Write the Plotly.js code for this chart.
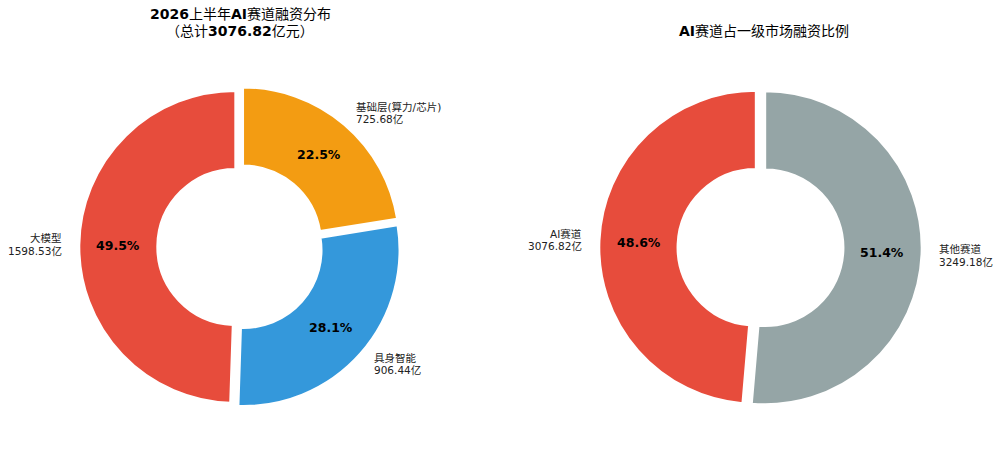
<!DOCTYPE html>
<html><head><meta charset="utf-8">
<script src="https://cdn.plot.ly/plotly-3.0.1.min.js"></script>
<style>html,body{margin:0;padding:0;background:#fff}#chart{width:1000px;height:452px}</style>
</head><body><div id="chart"></div>
<script>
// ---- data ----
const segCategories = ['大模型', '具身智能', '基础层(算力/芯片)'];
const segValues = [1598.53, 906.44, 725.68];
const shareCategories = ['AI赛道', '其他赛道'];
const shareValues = [3076.82, 3249.18];
const unitSuffix = '亿';
const leftTitleLine1 = '<b>2026</b>上半年<b>AI</b>赛道融资分布';
const leftTitleLine2 = '（总计<b>3076.82</b>亿元）';
const rightTitle = '<b>AI</b>赛道占一级市场融资比例';

// ---- styles / layout ----
const segColors = ['#e74c3c', '#3498db', '#f39c12'];
const shareColors = ['#e74c3c', '#95a5a6'];
const W = 1000, H = 452;
const FONT = 'DejaVu Sans, Noto Sans CJK SC, sans-serif';
const PULL = 0.03, HOLE = 0.5;
const geo = [{cx: 240, cy: 247, r: 156}, {cx: 760.5, cy: 247.5, r: 156.5}];

function domainFor(g) {
  const half = g.r * (1 + PULL);
  return {x: [(g.cx - half) / W, (g.cx + half) / W], y: [1 - (g.cy + half) / H, 1 - (g.cy - half) / H]};
}
function px(x) { return x / W; }
function py(y) { return 1 - y / H; }

const annotations = [];
function addText(x, y, text, size, color, xanchor) {
  annotations.push({xref: 'paper', yref: 'paper', x: px(x), y: py(y), text: text, showarrow: false,
    xanchor: xanchor || 'center', yanchor: 'middle', font: {family: FONT, size: size, color: color}});
}

function makePie(labels, values, colors, g) {
  const total = values.reduce((a, b) => a + b, 0);
  let cum = 0;
  values.forEach((v, i) => {
    const t1 = 90 + 360 * cum / total;
    const t2 = t1 + 360 * v / total;
    cum += v;
    const tm = (t1 + t2) / 2 * Math.PI / 180;
    const c = Math.cos(tm), s = Math.sin(tm);
    const pd = (0.75 + PULL) * g.r;
    addText(g.cx + pd * c, g.cy - pd * s, '<b>' + (v / total * 100).toFixed(1) + '%</b>', 12.5, '#000');
    const ld = (1.1 + PULL) * g.r;
    const lx = g.cx + ld * c, ly = g.cy - ld * s;
    const anc = c >= 0 ? 'left' : 'right';
    addText(lx, ly - 6, labels[i], 10.5, '#222', anc);
    addText(lx, ly + 6.5, v.toFixed(2) + unitSuffix, 10.5, '#222', anc);
  });
  return {
    type: 'pie', labels: labels, values: values, sort: false, direction: 'counterclockwise',
    rotation: -360 * values[0] / total,
    hole: HOLE, pull: values.map(() => PULL), textinfo: 'none', hoverinfo: 'none', showlegend: false,
    marker: {colors: colors, line: {color: '#ffffff', width: 2}}, domain: domainFor(g)
  };
}

const traces = [
  makePie(segCategories, segValues, segColors, geo[0]),
  makePie(shareCategories, shareValues, shareColors, geo[1])
];

addText(240, 14.5, leftTitleLine1, 14, '#000');
addText(240, 31, leftTitleLine2, 14, '#000');
addText(764, 31.5, rightTitle, 14, '#000');

Plotly.newPlot('chart', traces, {
  width: W, height: H, margin: {l: 0, r: 0, t: 0, b: 0},
  paper_bgcolor: '#fff', plot_bgcolor: '#fff', font: {family: FONT},
  annotations: annotations, showlegend: false
}, {displayModeBar: false, staticPlot: true});
</script>
</body></html>
